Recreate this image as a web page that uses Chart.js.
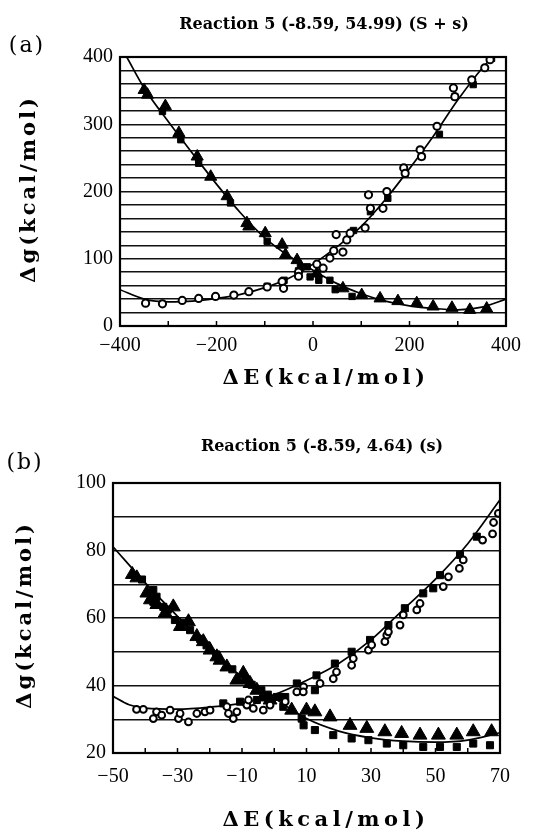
<!DOCTYPE html>
<html><head><meta charset="utf-8">
<script src="https://cdn.jsdelivr.net/npm/chart.js@4.4.1/dist/chart.umd.min.js"></script>
<style>
html,body{margin:0;padding:0;background:#fff;width:540px;height:836px;overflow:hidden}
.box{position:absolute;left:0;width:540px}
#ba{top:0;height:410px}
#bb{top:410px;height:426px}
canvas{display:block}
</style></head><body>
<div class="box" id="ba"><canvas id="ca" width="540" height="410"></canvas></div>
<div class="box" id="bb"><canvas id="cb" width="540" height="426"></canvas></div>
<script>
// ---------- texts ----------
const X_TITLE = 'ΔE(kcal/mol)';
const Y_TITLE = 'Δg(kcal/mol)';
const TITLE_A = 'Reaction 5 (-8.59, 54.99) (S + s)';
const TITLE_B = 'Reaction 5 (-8.59, 4.64) (s)';
const LABEL_A = '(a)';
const LABEL_B = '(b)';

// ---------- panel (a) data ----------
const aTriX = [-350,-343,-306,-278,-240,-212,-178,-137,-133,-99,-64,-57,-33,8,62,101,139,176,215,249,288,325,360];
const aTriY = [351,344,327,287,252,222,193,153,148,138,121,106,98,78,56,46,41,37,34,29,27,24,26];
const aSqX = [-312,-274,-237,-171,-95,-26,-12,-6,12,35,46,81,-95,-60,-30,84,119,155,191,225,262,294,332,370];
const aSqY = [319,277,242,183,126,88,88,73,68,68,54,44,59,68,82,142,170,190,227,252,285,341,359,398];
const aCircX = [-347,-312,-271,-237,-202,-164,-133,-95,-64,-61,-30,-30,8,21,35,43,48,62,70,77,108,115,119,145,153,188,191,222,225,257,291,294,329,356,367];
const aCircY = [34,33,38,41,44,46,51,58,66,56,80,74,92,86,101,112,136,110,128,138,146,195,175,175,200,235,227,262,252,297,354,341,366,384,396];
const aFitDownX = [-386,-350,-300,-250,-200,-150,-100,-50,0,50,100,150,200,250,300,350,400];
const aFitDownY = [400,354,304,257,211,168,131,104,83,63,48,37,30,26,24,28,40];
const aFitUpX = [-400,-350,-300,-250,-200,-150,-100,-50,0,50,100,150,200,250,300,350,372];
const aFitUpY = [54,40,36,37,41,47,57,71,92,118,148,188,234,283,336,383,400];

// ---------- panel (b) data ----------
const bTriX = [-44,-42.6,-39.5,-38.4,-36.4,-33.8,-31.3,-29.1,-26.6,-24,-22,-19.9,-17.8,-16.8,-14.7,-11.6,-9.6,-7.5,-5.4,-3.4,-1.3,5.4,10,12.6,17.3,23.5,28.7,34.3,39.5,45.2,50.9,56.6,61.7,67.4];
const bTriY = [72.9,71.9,67.4,65.4,64.0,61.5,63.3,57.5,58.9,54.5,53,50.5,48.5,47.5,45.5,41.6,43.6,40.6,38.6,36.6,35.7,32.7,32.7,32.2,30.7,28.2,27.3,26.3,25.8,25.3,25.3,25.3,26.3,26.3];
const bSqX = [-37.5,-36.5,-37.5,-34.4,-30.8,-29.2,-26.1,1.8,2.8,8.5,9.1,12.6,18.3,24,29.2,34.9,40,46.2,51.4,56.6,61.7,66.9,-15.8,-10.6,-5.4,0.8,3.4,7,12.6,13.1,18.8,24,29.7,35.4,40.5,46.2,49.3,51.4,57.6,62.8,
              -41,-33,-28,-23,-21,-18,-13,-9,-7,-4,-2];
const bSqY = [68.3,66.3,64.8,63.3,59.4,57.4,56.4,36.6,33.7,30.2,28.2,26.8,25.3,24.3,23.8,22.8,22.3,21.8,21.8,21.8,22.8,22.3,34.7,35.2,35.7,36.6,36.6,40.6,38.6,43,46.5,50,53.5,57.9,62.9,67.3,68.8,72.7,78.7,84.1,
              71.4,62.5,58.6,53.8,51.9,49.2,44.8,41.6,40.2,38.6,37.3];
const bCircX = [-42.7,-40.6,-37.5,-36.5,-34.9,-32.3,-29.7,-29.2,-26.6,-24,-21.5,-19.9,-14.7,-14.2,-12.7,-11.6,-8.5,-8,-6.5,-3.4,-1.3,3.4,7,9.1,9,14.2,18.3,19.3,24,24.5,29.2,30.2,34.3,34.9,35.4,39,40,44.2,45.2,52.4,54,57.4,58.6,64.6,67.7,68,69.5];
const bCircY = [32.9,32.9,30.2,32.2,31.2,32.7,30.2,31.7,29.2,31.7,32.2,32.7,33.7,31.7,30.2,32.2,34.2,35.7,33.2,32.7,34.2,35.2,38.1,39.6,38.1,40.6,42,44,46,48,50.5,52,53,54.9,55.9,57.9,60.9,62.4,64.3,69.3,72.2,74.7,77.2,83.1,84.9,88.3,91];
const bFitDownX = [-50,-40,-30,-20,-10,0,10,20,30,40,50,60,70];
const bFitDownY = [81.1,70.4,60.5,50.9,42.5,36.3,30.2,26.5,24.5,23.5,23.2,23.8,26];
const bFitUpX = [-50,-45,-40,-30,-20,-10,0,10,20,30,40,50,60,70];
const bFitUpY = [36.8,34.3,33.3,33,33.6,34.8,37.3,41.5,46.5,53.5,62.5,71.5,82,95];

// ---------- axis ranges / ticks ----------
const aXRange = [-400, 400], aXStep = 100, aXLabelEvery = 200;
const aYRange = [0, 400], aYStep = 20, aYLabelEvery = 100;
const bXRange = [-50, 70], bXStep = 10, bXLabelEvery = 20;
const bYRange = [20, 100], bYStep = 10, bYLabelEvery = 20;

const pts = (xs, ys) => xs.map((x, i) => ({x, y: ys[i]}));
const fmt = v => v < 0 ? '\u2212' + Math.abs(v) : String(v);

const decor = {
  id: 'decor',
  afterDatasetsDraw(chart, args, o) {
    const {ctx, chartArea: a} = chart;
    const x = chart.scales.x;
    ctx.save();
    ctx.strokeStyle = '#000';
    ctx.lineWidth = 1.5;
    x.ticks.forEach(t => {
      const px = x.getPixelForValue(t.value);
      ctx.beginPath(); ctx.moveTo(px, a.bottom); ctx.lineTo(px, a.bottom - o.tick); ctx.stroke();
    });
    ctx.lineWidth = 2.2;
    ctx.strokeRect(a.left, a.top, a.right - a.left, a.bottom - a.top);
    ctx.restore();
  },
  afterDraw(chart, args, o) {
    const ctx = chart.ctx;
    ctx.save();
    ctx.fillStyle = '#000';
    ctx.textAlign = 'center';
    ctx.textBaseline = 'middle';
    ctx.font = 'bold 16px "DejaVu Serif"';
    ctx.fillText(o.title, o.titleX, o.titleY);
    ctx.font = '22px "DejaVu Serif"';
    ctx.letterSpacing = '2px';
    ctx.fillText(o.panel, o.panelX, o.panelY);
    ctx.font = 'bold 21px "DejaVu Serif"';
    ctx.letterSpacing = o.xSpacing;
    ctx.fillText(X_TITLE, o.xtX, o.xtY);
    ctx.translate(o.ytX, o.ytY);
    ctx.rotate(-Math.PI / 2);
    ctx.letterSpacing = o.ySpacing;
    ctx.fillText(Y_TITLE, 0, 0);
    ctx.restore();
  }
};

function makeChart(id, d) {
  const H = d.H;
  return new Chart(document.getElementById(id), {
    type: 'scatter',
    data: {
      datasets: [
        {label: 'circles', data: pts(d.circX, d.circY), pointStyle: 'circle', pointRadius: d.rCirc,
         backgroundColor: '#fff', borderColor: '#000', borderWidth: d.wCirc, showLine: false},
        {label: 'squares', data: pts(d.sqX, d.sqY), pointStyle: 'rect', pointRadius: d.rSq,
         backgroundColor: '#000', borderColor: '#000', borderWidth: 1, showLine: false},
        {label: 'triangles', data: pts(d.triX, d.triY), pointStyle: 'triangle', pointRadius: d.rTri,
         backgroundColor: '#000', borderColor: '#000', borderWidth: 1, showLine: false},
        {type: 'line', label: 'fit1', data: pts(d.fitDownX, d.fitDownY), borderColor: '#000', borderWidth: 1.7,
         pointRadius: 0, fill: false, cubicInterpolationMode: 'monotone'},
        {type: 'line', label: 'fit2', data: pts(d.fitUpX, d.fitUpY), borderColor: '#000', borderWidth: 1.7,
         pointRadius: 0, fill: false, cubicInterpolationMode: 'monotone'}
      ]
    },
    options: {
      responsive: false,
      animation: false,
      events: [],
      layout: {padding: {top: d.top, right: 540 - d.right, bottom: 0, left: 0}},
      plugins: {
        legend: {display: false},
        tooltip: {enabled: false},
        decor: d.decor
      },
      scales: {
        x: {
          type: 'linear', min: d.xRange[0], max: d.xRange[1],
          afterFit: s => { s.height = H - d.bottom; },
          grid: {display: false, drawTicks: false},
          border: {display: false},
          ticks: {
            stepSize: d.xStep, autoSkip: false, maxRotation: 0, padding: d.xPad,
            color: '#000', font: {family: '"Liberation Serif"', size: 20},
            callback: v => ((v - d.xRange[0]) % d.xLabelEvery === 0) ? fmt(v) : ''
          }
        },
        y: {
          type: 'linear', min: d.yRange[0], max: d.yRange[1],
          afterFit: s => { s.width = d.left; },
          grid: {color: '#111', lineWidth: 1.5, drawTicks: false},
          border: {display: false},
          ticks: {
            stepSize: d.yStep, autoSkip: false, padding: 7,
            color: '#000', font: {family: '"Liberation Serif"', size: 20},
            callback: v => (v % d.yLabelEvery === 0) ? fmt(v) : ''
          }
        }
      }
    },
    plugins: [decor]
  });
}

makeChart('ca', {
  H: 410, left: 120, right: 506, top: 57, bottom: 326,
  xRange: aXRange, xStep: aXStep, xLabelEvery: aXLabelEvery, xPad: 8,
  yRange: aYRange, yStep: aYStep, yLabelEvery: aYLabelEvery,
  circX: aCircX, circY: aCircY, sqX: aSqX, sqY: aSqY, triX: aTriX, triY: aTriY,
  fitDownX: aFitDownX, fitDownY: aFitDownY, fitUpX: aFitUpX, fitUpY: aFitUpY,
  rCirc: 3.6, wCirc: 2, rSq: 4.5, rTri: 7,
  decor: {tick: 5, title: TITLE_A, titleX: 324, titleY: 25, panel: LABEL_A, panelX: 27, panelY: 46,
          xtX: 326, xtY: 379, xSpacing: '4.5px', ytX: 30, ytY: 189, ySpacing: '3px'}
});

makeChart('cb', {
  H: 426, left: 113, right: 500, top: 73, bottom: 343,
  xRange: bXRange, xStep: bXStep, xLabelEvery: bXLabelEvery, xPad: 12,
  yRange: bYRange, yStep: bYStep, yLabelEvery: bYLabelEvery,
  circX: bCircX, circY: bCircY, sqX: bSqX, sqY: bSqY, triX: bTriX, triY: bTriY,
  fitDownX: bFitDownX, fitDownY: bFitDownY, fitUpX: bFitUpX, fitUpY: bFitUpY,
  rCirc: 3.4, wCirc: 2, rSq: 5, rTri: 8,
  decor: {tick: 5, title: TITLE_B, titleX: 322, titleY: 37, panel: LABEL_B, panelX: 25, panelY: 53,
          xtX: 326, xtY: 411, xSpacing: '4.5px', ytX: 26, ytY: 205, ySpacing: '3px'}
});
</script>
</body></html>
